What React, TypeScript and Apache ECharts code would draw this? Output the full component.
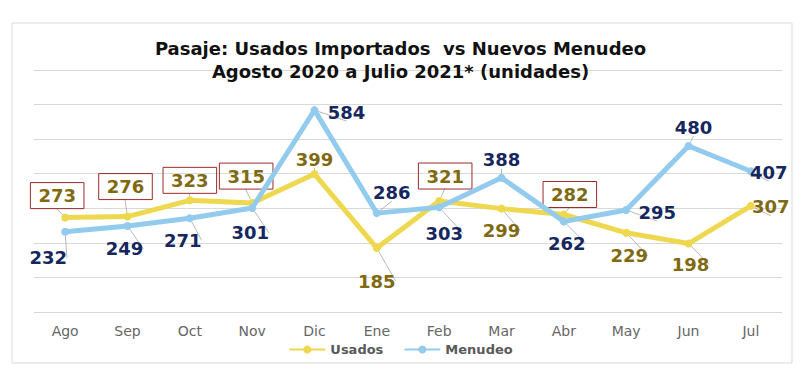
import React, { useEffect, useRef } from "react";
import * as echarts from "echarts";

const categories = ["Ago", "Sep", "Oct", "Nov", "Dic", "Ene", "Feb", "Mar", "Abr", "May", "Jun", "Jul"];
const usados = [273, 276, 323, 315, 399, 185, 321, 299, 282, 229, 198, 307];
const menudeo = [232, 249, 271, 301, 584, 286, 303, 388, 262, 295, 480, 407];
const usadosBoxed = [true, true, true, true, false, false, true, false, true, false, false, false];

// label offsets (layout only)
const usadosOffsets: number[][] = [
  [-8, -22], [-2, -30], [0, -20], [-6, -27], [0, -15], [0, 33],
  [6, -25], [0, 22], [6, -20], [3, 23], [2, 21], [20, 1],
];
const menudeoOffsets: number[][] = [
  [-17, 26], [-3, 23], [-7, 22], [-2, 25], [32, 2], [15, -21],
  [5, 26], [0, -18], [3, 22], [31, 2], [5, -19], [18, 1],
];

const FONT = "DejaVu Sans";

export default function App() {
  const ref = useRef<HTMLDivElement>(null);
  useEffect(() => {
    document.body.style.margin = "0";
    const chart = echarts.init(ref.current!, null, { renderer: "svg" });
    const labelBase = {
      show: true,
      position: "inside",
      fontFamily: FONT,
      fontWeight: "bold",
      fontSize: 18,
    };
    chart.setOption({
      animation: false,
      backgroundColor: "#fff",
      graphic: [
        {
          type: "rect",
          shape: { x: 12, y: 23, width: 780, height: 340 },
          style: { fill: "none", stroke: "#d9d9d9", lineWidth: 1 },
          silent: true,
        },
      ],
      title: {
        text: "Pasaje: Usados Importados  vs Nuevos Menudeo\nAgosto 2020 a Julio 2021* (unidades)",
        left: "center",
        top: 32,
        textStyle: {
          fontFamily: FONT,
          fontWeight: "bold",
          fontSize: 18,
          lineHeight: 23,
          color: "#111",
        },
      },
      legend: {
        bottom: 14,
        left: "center",
        itemWidth: 36,
        itemHeight: 10,
        itemGap: 20,
        data: ["Usados", "Menudeo"],
        textStyle: { fontFamily: FONT, fontWeight: "bold", fontSize: 13, color: "#595959" },
      },
      grid: { left: 34, right: 19, top: 70, bottom: 63 },
      xAxis: {
        type: "category",
        data: categories,
        boundaryGap: true,
        axisLine: { show: false },
        axisTick: { show: false },
        axisLabel: { fontFamily: FONT, fontSize: 14, color: "#666", margin: 12 },
      },
      yAxis: {
        type: "value",
        min: 0,
        max: 700,
        interval: 100,
        axisLabel: { show: false },
        axisLine: { show: false },
        axisTick: { show: false },
        splitLine: { lineStyle: { color: "#d9d9d9", width: 1 } },
      },
      series: [
        {
          name: "Usados",
          type: "line",
          z: 2,
          symbol: "circle",
          symbolSize: 8,
          lineStyle: { color: "#EED84F", width: 5 },
          itemStyle: { color: "#EED84F" },
          labelLine: { show: true, lineStyle: { color: "#a6a6a6", width: 0.8 } },
          data: usados.map((v, i) => ({
            value: v,
            label: {
              ...labelBase,
              color: "#7F6A12",
              offset: usadosOffsets[i],
              ...(usadosBoxed[i]
                ? { borderColor: "#9B2A2A", borderWidth: 1, padding: [4, 8] }
                : {}),
            },
          })),
        },
        {
          name: "Menudeo",
          type: "line",
          z: 3,
          symbol: "circle",
          symbolSize: 8,
          lineStyle: { color: "#93CBEE", width: 5 },
          itemStyle: { color: "#93CBEE" },
          labelLine: { show: true, lineStyle: { color: "#a6a6a6", width: 0.8 } },
          data: menudeo.map((v, i) => ({
            value: v,
            label: { ...labelBase, color: "#15275E", offset: menudeoOffsets[i] },
          })),
        },
      ],
    });
    return () => chart.dispose();
  }, []);
  return <div ref={ref} style={{ width: 801, height: 375, position: "absolute", left: 0, top: 0 }} />;
}
